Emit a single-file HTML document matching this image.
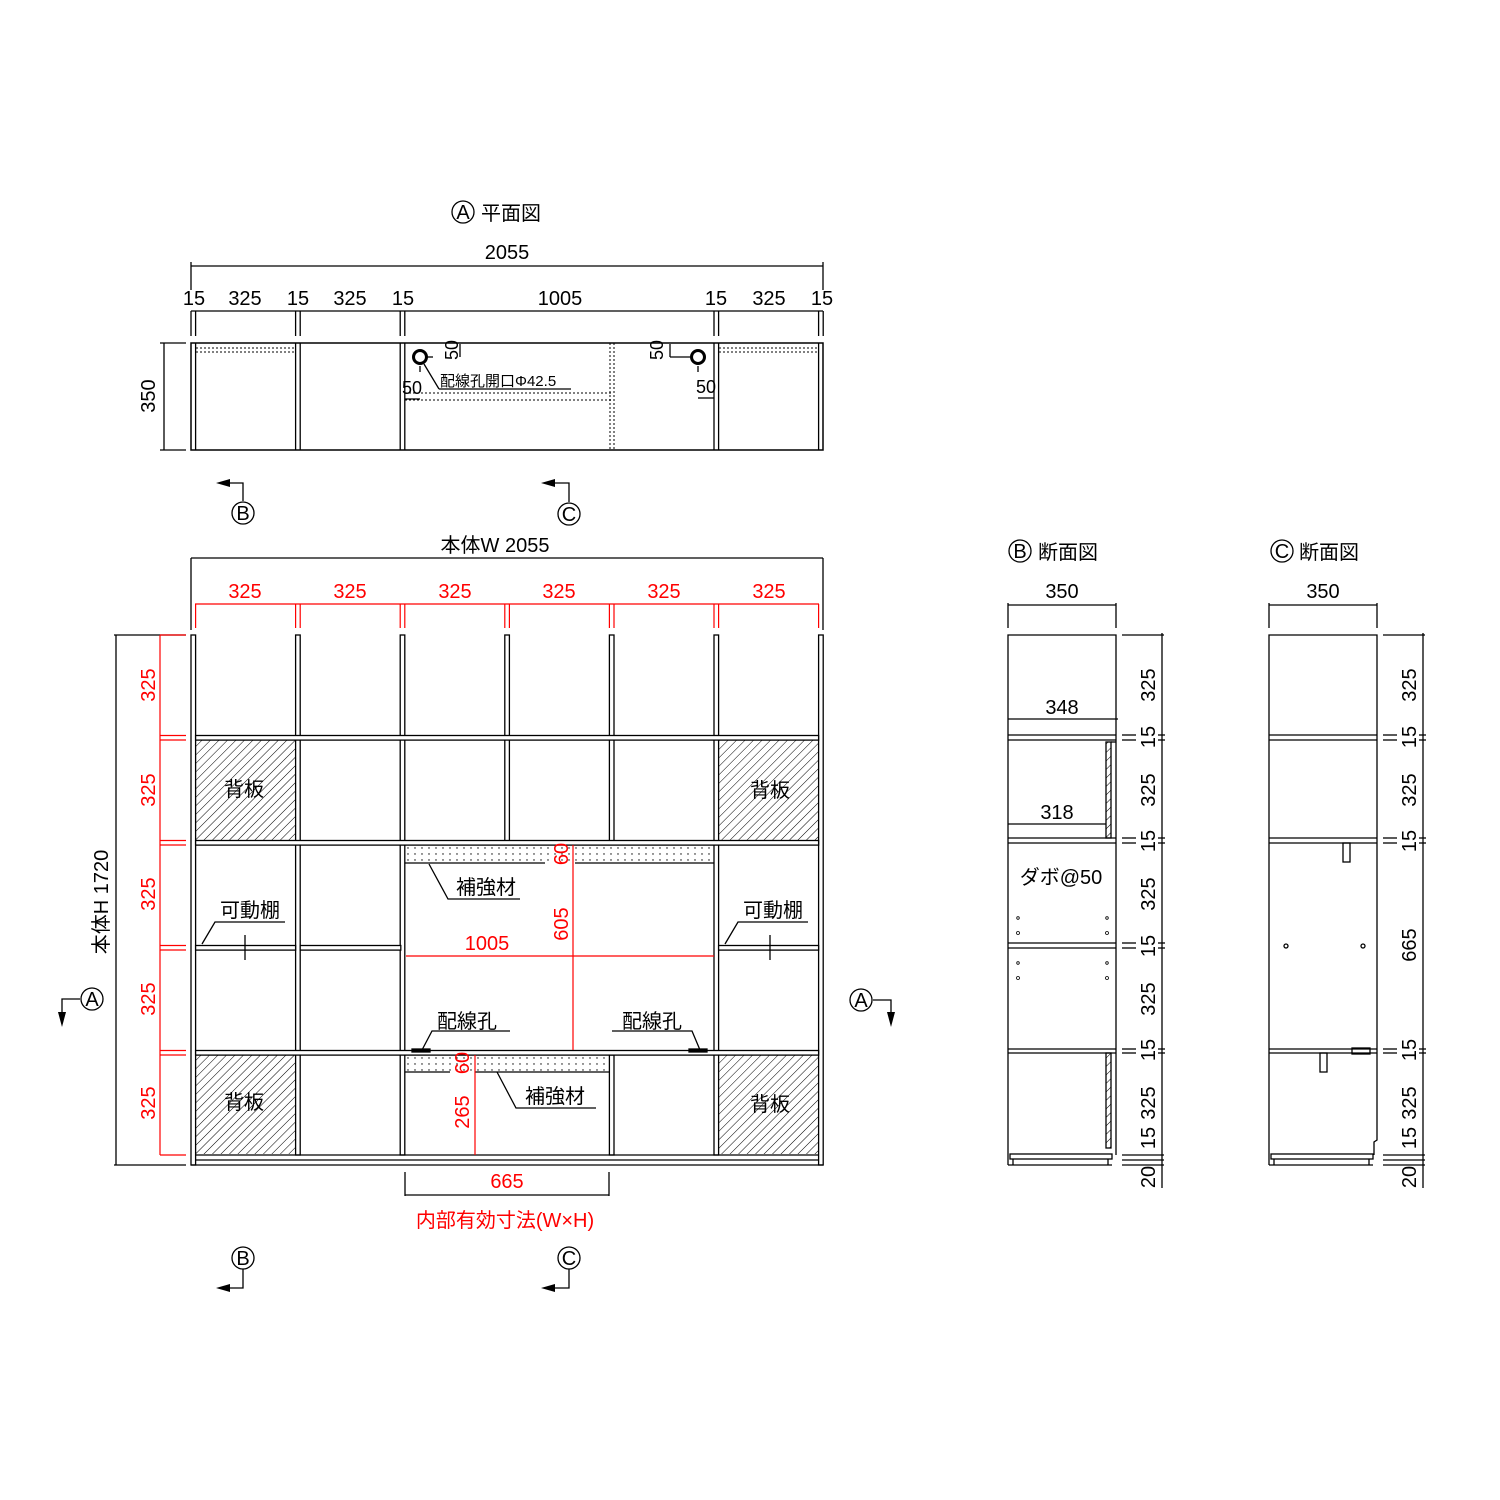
<!DOCTYPE html>
<html><head><meta charset="utf-8"><style>
html,body{margin:0;padding:0;background:#fff}
svg{display:block}
text{font-family:"Liberation Sans","Noto Sans CJK JP",sans-serif;font-size:20px;fill:#000}
.r{fill:#f00}
.s{font-size:15px}
.m{font-size:18px}
</style></head><body>
<svg width="1500" height="1500" viewBox="0 0 1500 1500" xmlns="http://www.w3.org/2000/svg">
<defs>
<pattern id="h" width="6" height="6" patternUnits="userSpaceOnUse" patternTransform="rotate(45)"><line x1="0" y1="0" x2="0" y2="6" stroke="#000" stroke-width="1"/></pattern>
<pattern id="d" width="7" height="6" patternUnits="userSpaceOnUse"><circle cx="2" cy="2" r="0.7" fill="#000"/></pattern>
</defs>
<g fill="none" stroke="#000" stroke-width="1.3">

<!-- ===== PLAN VIEW ===== -->
<line x1="191" y1="266" x2="823" y2="266"/>
<line x1="191" y1="262" x2="191" y2="290"/><line x1="823" y1="262" x2="823" y2="290"/>
<line x1="191" y1="311" x2="823" y2="311"/>
<g>
<line x1="191" y1="311" x2="191" y2="336"/><line x1="195.6" y1="311" x2="195.6" y2="336"/>
<line x1="295.6" y1="311" x2="295.6" y2="336"/><line x1="300.2" y1="311" x2="300.2" y2="336"/>
<line x1="400.2" y1="311" x2="400.2" y2="336"/><line x1="404.8" y1="311" x2="404.8" y2="336"/>
<line x1="714" y1="311" x2="714" y2="336"/><line x1="718.6" y1="311" x2="718.6" y2="336"/>
<line x1="818.6" y1="311" x2="818.6" y2="336"/><line x1="823.2" y1="311" x2="823.2" y2="336"/>
</g>
<rect x="191" y="343" width="632" height="107" stroke-width="1.5"/>
<line x1="160" y1="343" x2="186" y2="343"/><line x1="160" y1="450" x2="186" y2="450"/>
<line x1="164" y1="343" x2="164" y2="450"/>
<line x1="195.6" y1="343" x2="195.6" y2="450"/>
<line x1="295.6" y1="343" x2="295.6" y2="450"/><line x1="300.2" y1="343" x2="300.2" y2="450"/>
<line x1="400.2" y1="343" x2="400.2" y2="450"/><line x1="404.8" y1="343" x2="404.8" y2="450"/>
<line x1="714" y1="343" x2="714" y2="450"/><line x1="718.6" y1="343" x2="718.6" y2="450"/>
<line x1="818.6" y1="343" x2="818.6" y2="450"/>
<g stroke-dasharray="2,2" stroke-width="1">
<line x1="196" y1="348" x2="295" y2="348"/><line x1="196" y1="352" x2="295" y2="352"/>
<line x1="719" y1="348" x2="818" y2="348"/><line x1="719" y1="352" x2="818" y2="352"/>
<line x1="405" y1="393" x2="612" y2="393"/><line x1="405" y1="400" x2="612" y2="400"/>
<line x1="610" y1="343" x2="610" y2="450"/><line x1="614" y1="343" x2="614" y2="450"/>
</g>
<circle cx="420" cy="357" r="6.5" stroke-width="3"/>
<circle cx="698" cy="357" r="6.5" stroke-width="3"/>
<line x1="424" y1="364" x2="439" y2="389"/><line x1="439" y1="389" x2="571" y2="389"/>
<line x1="460" y1="344" x2="460" y2="357"/><line x1="427" y1="357" x2="433" y2="357"/>
<line x1="670" y1="344" x2="670" y2="357"/><line x1="670" y1="357" x2="690" y2="357"/>
<line x1="405" y1="399" x2="420" y2="399"/><line x1="698" y1="398" x2="714" y2="398"/>
<line x1="420" y1="366" x2="420" y2="372"/><line x1="698" y1="366" x2="698" y2="372"/>

<!-- section markers top -->
<polyline points="220,483 243,483 243,501"/>
<polyline points="545,483 569,483 569,502"/>
<circle cx="243" cy="513" r="11"/><circle cx="569" cy="514" r="11"/>
<circle cx="463" cy="212" r="11"/>

<!-- ===== FRONT VIEW ===== -->
<line x1="191" y1="558" x2="823" y2="558"/>
<line x1="191" y1="558" x2="191" y2="630"/><line x1="823" y1="558" x2="823" y2="630"/>
<!-- hatched back panels -->
<rect x="196" y="740" width="99.6" height="100.5" fill="url(#h)" stroke="none"/>
<rect x="718.6" y="740" width="100" height="100.5" fill="url(#h)" stroke="none"/>
<rect x="196" y="1055" width="99.6" height="99" fill="url(#h)" stroke="none"/>
<rect x="718.6" y="1055" width="100" height="99" fill="url(#h)" stroke="none"/>
<!-- panels -->
<rect x="191" y="635" width="4.6" height="530" fill="#fff"/>
<rect x="295.6" y="635" width="4.6" height="520" fill="#fff"/>
<rect x="400.2" y="635" width="4.6" height="520" fill="#fff"/>
<rect x="714" y="635" width="4.6" height="520" fill="#fff"/>
<rect x="818.6" y="635" width="4.6" height="530" fill="#fff"/>
<rect x="504.8" y="635" width="4.6" height="206" fill="#fff"/>
<rect x="609.4" y="635" width="4.6" height="206" fill="#fff"/>
<rect x="609.4" y="1055" width="4.6" height="100" fill="#fff"/>
<!-- shelves -->
<rect x="195.6" y="735.5" width="623" height="4.6" fill="#fff"/>
<rect x="195.6" y="840.5" width="623" height="4.6" fill="#fff"/>
<rect x="195.6" y="1050.5" width="623" height="4.6" fill="#fff"/>
<rect x="195.6" y="945.5" width="100" height="4.6" fill="#fff"/>
<rect x="300.2" y="945.5" width="100.6" height="4.6" fill="#fff"/>
<rect x="718.6" y="945.5" width="100" height="4.6" fill="#fff"/>
<!-- bottom -->
<line x1="195.6" y1="1155" x2="818.6" y2="1155"/>
<line x1="195.6" y1="1160" x2="818.6" y2="1160"/>
<line x1="191" y1="1165" x2="823" y2="1165"/>
<!-- reinforcement -->
<rect x="405" y="845" width="309" height="18" fill="url(#d)" stroke="none"/>
<line x1="405" y1="863" x2="545" y2="863"/><line x1="575" y1="863" x2="714" y2="863"/>
<rect x="405" y="1055" width="204" height="17" fill="url(#d)" stroke="none"/>
<line x1="405" y1="1072" x2="450" y2="1072"/><line x1="475" y1="1072" x2="609" y2="1072"/>
<!-- leaders -->
<polyline points="429,864 448,899 520,899"/>
<polyline points="497,1072 516,1108 596,1108"/>
<polyline points="202,944 215,922 285,922"/>
<polyline points="725,944 738,922 808,922"/>
<polyline points="422,1050 432,1031 510,1031"/>
<polyline points="700,1050 692,1031 612,1031"/>
<rect x="412" y="1049" width="18" height="3" fill="#000"/>
<rect x="689" y="1049" width="18" height="3" fill="#000"/>
<line x1="245" y1="935" x2="245" y2="960"/><line x1="770" y1="935" x2="770" y2="960"/>
<!-- left outer dim -->
<line x1="114" y1="635" x2="186" y2="635"/><line x1="114" y1="1165" x2="186" y2="1165"/>
<line x1="116" y1="635" x2="116" y2="1165"/>
<!-- A markers -->
<polyline points="62,1023 62,999 80,999"/>
<circle cx="92" cy="999" r="11"/>
<polyline points="873,1000 891,1000 891,1023"/>
<circle cx="861" cy="1000" r="11"/>
<!-- bottom B C markers -->
<circle cx="243" cy="1258" r="11"/><circle cx="569" cy="1258" r="11"/>
<polyline points="243,1269 243,1288 220,1288"/>
<polyline points="569,1269 569,1288 545,1288"/>
<!-- 665 dim -->
<line x1="405" y1="1172" x2="405" y2="1196"/><line x1="609" y1="1172" x2="609" y2="1196"/>
<line x1="405" y1="1195" x2="609" y2="1195"/>

<!-- ===== SECTION B ===== -->
<line x1="1008" y1="605" x2="1116" y2="605"/>
<line x1="1008" y1="603" x2="1008" y2="628"/><line x1="1116" y1="603" x2="1116" y2="628"/>
<polyline points="1008,1165 1008,635 1116,635 1116,1155"/>
<line x1="1008" y1="719" x2="1118" y2="719"/>
<line x1="1008" y1="735" x2="1116" y2="735"/><line x1="1008" y1="740" x2="1116" y2="740"/>
<line x1="1008" y1="824" x2="1106" y2="824"/>
<line x1="1008" y1="838" x2="1116" y2="838"/><line x1="1008" y1="843" x2="1116" y2="843"/>
<line x1="1008" y1="943" x2="1116" y2="943"/><line x1="1008" y1="948" x2="1116" y2="948"/>
<line x1="1008" y1="1049" x2="1116" y2="1049"/><line x1="1008" y1="1053" x2="1116" y2="1053"/>
<rect x="1106" y="742" width="5" height="96" fill="url(#h)"/>
<rect x="1106" y="1053" width="5" height="95" fill="url(#h)"/>
<line x1="1111" y1="742" x2="1116" y2="742"/>
<rect x="1010" y="1154" width="102" height="5"/>
<line x1="1013" y1="1159" x2="1013" y2="1165"/><line x1="1108" y1="1159" x2="1108" y2="1165"/>
<line x1="1008" y1="1165" x2="1112" y2="1165"/>
<g stroke-width="0.8">
<circle cx="1018" cy="918" r="1.3"/><circle cx="1018" cy="933" r="1.5"/>
<circle cx="1107" cy="918" r="1.3"/><circle cx="1107" cy="933" r="1.5"/>
<circle cx="1018" cy="963" r="1.3"/><circle cx="1018" cy="978" r="1.5"/>
<circle cx="1107" cy="963" r="1.3"/><circle cx="1107" cy="978" r="1.5"/>
</g>
<!-- B dims -->
<line x1="1162" y1="633" x2="1162" y2="1188"/>
<line x1="1122" y1="635" x2="1164" y2="635"/>
<g>
<line x1="1122" y1="735" x2="1136" y2="735"/><line x1="1122" y1="740" x2="1136" y2="740"/>
<line x1="1122" y1="838" x2="1136" y2="838"/><line x1="1122" y1="843" x2="1136" y2="843"/>
<line x1="1122" y1="943" x2="1136" y2="943"/><line x1="1122" y1="948" x2="1136" y2="948"/>
<line x1="1122" y1="1049" x2="1136" y2="1049"/><line x1="1122" y1="1053" x2="1136" y2="1053"/>
<line x1="1122" y1="1155" x2="1164" y2="1155"/><line x1="1122" y1="1160" x2="1164" y2="1160"/>
<line x1="1122" y1="1165" x2="1164" y2="1165"/>
<line x1="1158" y1="735" x2="1165" y2="735"/><line x1="1158" y1="740" x2="1165" y2="740"/>
<line x1="1158" y1="838" x2="1165" y2="838"/><line x1="1158" y1="843" x2="1165" y2="843"/>
<line x1="1158" y1="943" x2="1165" y2="943"/><line x1="1158" y1="948" x2="1165" y2="948"/>
<line x1="1158" y1="1049" x2="1165" y2="1049"/><line x1="1158" y1="1053" x2="1165" y2="1053"/>
</g>

<!-- ===== SECTION C ===== -->
<line x1="1269" y1="605" x2="1377" y2="605"/>
<line x1="1269" y1="603" x2="1269" y2="628"/><line x1="1377" y1="603" x2="1377" y2="628"/>
<polyline points="1269,1165 1269,635 1377,635 1377,1140 1374,1142 1374,1155"/>
<line x1="1269" y1="735" x2="1377" y2="735"/><line x1="1269" y1="740" x2="1377" y2="740"/>
<line x1="1269" y1="838" x2="1377" y2="838"/><line x1="1269" y1="843" x2="1377" y2="843"/>
<line x1="1269" y1="1049" x2="1377" y2="1049"/><line x1="1269" y1="1053" x2="1377" y2="1053"/>
<rect x="1343" y="843" width="7" height="19"/>
<rect x="1320" y="1053" width="7" height="19"/>
<rect x="1352" y="1048" width="18" height="6"/>
<circle cx="1286" cy="946" r="2"/><circle cx="1363" cy="946" r="2"/>
<rect x="1271" y="1154" width="102" height="5"/>
<line x1="1274" y1="1159" x2="1274" y2="1165"/><line x1="1369" y1="1159" x2="1369" y2="1165"/>
<line x1="1269" y1="1165" x2="1373" y2="1165"/>
<line x1="1423" y1="633" x2="1423" y2="1188"/>
<line x1="1383" y1="635" x2="1425" y2="635"/>
<line x1="1383" y1="735" x2="1397" y2="735"/><line x1="1383" y1="740" x2="1397" y2="740"/>
<line x1="1383" y1="838" x2="1397" y2="838"/><line x1="1383" y1="843" x2="1397" y2="843"/>
<line x1="1383" y1="1049" x2="1397" y2="1049"/><line x1="1383" y1="1053" x2="1397" y2="1053"/>
<line x1="1419" y1="735" x2="1426" y2="735"/><line x1="1419" y1="740" x2="1426" y2="740"/>
<line x1="1419" y1="838" x2="1426" y2="838"/><line x1="1419" y1="843" x2="1426" y2="843"/>
<line x1="1419" y1="1049" x2="1426" y2="1049"/><line x1="1419" y1="1053" x2="1426" y2="1053"/>
<line x1="1383" y1="1155" x2="1425" y2="1155"/><line x1="1383" y1="1160" x2="1425" y2="1160"/>
<line x1="1383" y1="1165" x2="1425" y2="1165"/>
<circle cx="1282" cy="551" r="11"/><circle cx="1020" cy="551" r="11"/>
</g>

<!-- arrowheads -->
<g fill="#000">
<polygon points="216,483 230,479 230,487"/><polygon points="541,483 555,479 555,487"/>
<polygon points="216,1288 230,1284 230,1292"/><polygon points="541,1288 555,1284 555,1292"/>
<polygon points="62,1027 58,1012 66,1012"/><polygon points="891,1027 887,1012 895,1012"/>
</g>

<!-- red dims -->
<g fill="none" stroke="#f00" stroke-width="1.2">
<line x1="195" y1="604" x2="819" y2="604"/>
<line x1="195.6" y1="604" x2="195.6" y2="628"/><line x1="295.6" y1="604" x2="295.6" y2="628"/>
<line x1="300.2" y1="604" x2="300.2" y2="628"/><line x1="400.2" y1="604" x2="400.2" y2="628"/>
<line x1="404.8" y1="604" x2="404.8" y2="628"/><line x1="504.8" y1="604" x2="504.8" y2="628"/>
<line x1="509.4" y1="604" x2="509.4" y2="628"/><line x1="609.4" y1="604" x2="609.4" y2="628"/>
<line x1="614" y1="604" x2="614" y2="628"/><line x1="714" y1="604" x2="714" y2="628"/>
<line x1="718.6" y1="604" x2="718.6" y2="628"/><line x1="818.6" y1="604" x2="818.6" y2="628"/>
<line x1="160" y1="635" x2="160" y2="1155"/>
<line x1="160" y1="635" x2="186" y2="635"/>
<line x1="160" y1="735.5" x2="186" y2="735.5"/><line x1="160" y1="740" x2="186" y2="740"/>
<line x1="160" y1="840.5" x2="186" y2="840.5"/><line x1="160" y1="845" x2="186" y2="845"/>
<line x1="160" y1="945.5" x2="186" y2="945.5"/><line x1="160" y1="950" x2="186" y2="950"/>
<line x1="160" y1="1050.5" x2="186" y2="1050.5"/><line x1="160" y1="1055" x2="186" y2="1055"/>
<line x1="160" y1="1155" x2="186" y2="1155"/>
<line x1="406" y1="956" x2="714" y2="956"/>
<line x1="573" y1="845" x2="573" y2="1050"/>
<line x1="475" y1="1055" x2="475" y2="1155"/>
</g>

<!-- texts -->
<text x="463" y="219" text-anchor="middle">A</text>
<text x="481" y="220">平面図</text>
<text x="507" y="259" text-anchor="middle">2055</text>
<g text-anchor="middle">
<text x="194" y="305">15</text><text x="245" y="305">325</text><text x="298" y="305">15</text>
<text x="350" y="305">325</text><text x="403" y="305">15</text><text x="560" y="305">1005</text>
<text x="716" y="305">15</text><text x="769" y="305">325</text><text x="822" y="305">15</text>
</g>
<text transform="translate(155,396) rotate(-90)" text-anchor="middle">350</text>
<text class="s" x="440" y="386">配線孔開口Φ42.5</text>
<text class="m" x="412" y="394" text-anchor="middle">50</text>
<text class="m" x="706" y="393" text-anchor="middle">50</text>
<text class="m" transform="translate(458,350) rotate(-90)" text-anchor="middle">50</text>
<text class="m" transform="translate(663,350) rotate(-90)" text-anchor="middle">50</text>
<text x="243" y="520" text-anchor="middle">B</text>
<text x="569" y="521" text-anchor="middle">C</text>
<text x="495" y="552" text-anchor="middle">本体W 2055</text>
<g class="r" text-anchor="middle">
<text class="r" x="245" y="598">325</text><text class="r" x="350" y="598">325</text>
<text class="r" x="455" y="598">325</text><text class="r" x="559" y="598">325</text>
<text class="r" x="664" y="598">325</text><text class="r" x="769" y="598">325</text>
<text class="r" transform="translate(155,685) rotate(-90)">325</text>
<text class="r" transform="translate(155,790) rotate(-90)">325</text>
<text class="r" transform="translate(155,894) rotate(-90)">325</text>
<text class="r" transform="translate(155,999) rotate(-90)">325</text>
<text class="r" transform="translate(155,1103) rotate(-90)">325</text>
<text class="r" x="487" y="950">1005</text>
<text class="r" transform="translate(568,854) rotate(-90)">60</text>
<text class="r" transform="translate(568,924) rotate(-90)">605</text>
<text class="r" transform="translate(469,1063) rotate(-90)">60</text>
<text class="r" transform="translate(469,1112) rotate(-90)">265</text>
<text class="r" x="507" y="1188">665</text>
<text class="r" x="505" y="1227">内部有効寸法(W×H)</text>
</g>
<text transform="translate(108,902) rotate(-90)" text-anchor="middle">本体H 1720</text>
<text x="244" y="796" text-anchor="middle">背板</text>
<text x="770" y="797" text-anchor="middle">背板</text>
<text x="244" y="1109" text-anchor="middle">背板</text>
<text x="770" y="1111" text-anchor="middle">背板</text>
<text x="486" y="894" text-anchor="middle">補強材</text>
<text x="555" y="1103" text-anchor="middle">補強材</text>
<text x="250" y="917" text-anchor="middle">可動棚</text>
<text x="773" y="917" text-anchor="middle">可動棚</text>
<text x="467" y="1028" text-anchor="middle">配線孔</text>
<text x="652" y="1028" text-anchor="middle">配線孔</text>
<text x="92" y="1006" text-anchor="middle">A</text>
<text x="861" y="1007" text-anchor="middle">A</text>
<text x="243" y="1265" text-anchor="middle">B</text>
<text x="569" y="1265" text-anchor="middle">C</text>

<text x="1020" y="558" text-anchor="middle">B</text>
<text x="1038" y="559">断面図</text>
<text x="1282" y="558" text-anchor="middle">C</text>
<text x="1299" y="559">断面図</text>
<text x="1062" y="598" text-anchor="middle">350</text>
<text x="1323" y="598" text-anchor="middle">350</text>
<text x="1062" y="714" text-anchor="middle">348</text>
<text x="1057" y="819" text-anchor="middle">318</text>
<text x="1061" y="884" text-anchor="middle">ダボ@50</text>
<g text-anchor="middle">
<text transform="translate(1155,685) rotate(-90)">325</text>
<text transform="translate(1155,737) rotate(-90)">15</text>
<text transform="translate(1155,790) rotate(-90)">325</text>
<text transform="translate(1155,841) rotate(-90)">15</text>
<text transform="translate(1155,894) rotate(-90)">325</text>
<text transform="translate(1155,946) rotate(-90)">15</text>
<text transform="translate(1155,999) rotate(-90)">325</text>
<text transform="translate(1155,1050) rotate(-90)">15</text>
<text transform="translate(1155,1103) rotate(-90)">325</text>
<text transform="translate(1155,1138) rotate(-90)">15</text>
<text transform="translate(1155,1177) rotate(-90)">20</text>
<text transform="translate(1416,685) rotate(-90)">325</text>
<text transform="translate(1416,737) rotate(-90)">15</text>
<text transform="translate(1416,790) rotate(-90)">325</text>
<text transform="translate(1416,841) rotate(-90)">15</text>
<text transform="translate(1416,945) rotate(-90)">665</text>
<text transform="translate(1416,1050) rotate(-90)">15</text>
<text transform="translate(1416,1103) rotate(-90)">325</text>
<text transform="translate(1416,1138) rotate(-90)">15</text>
<text transform="translate(1416,1177) rotate(-90)">20</text>
</g>
</svg>
</body></html>
